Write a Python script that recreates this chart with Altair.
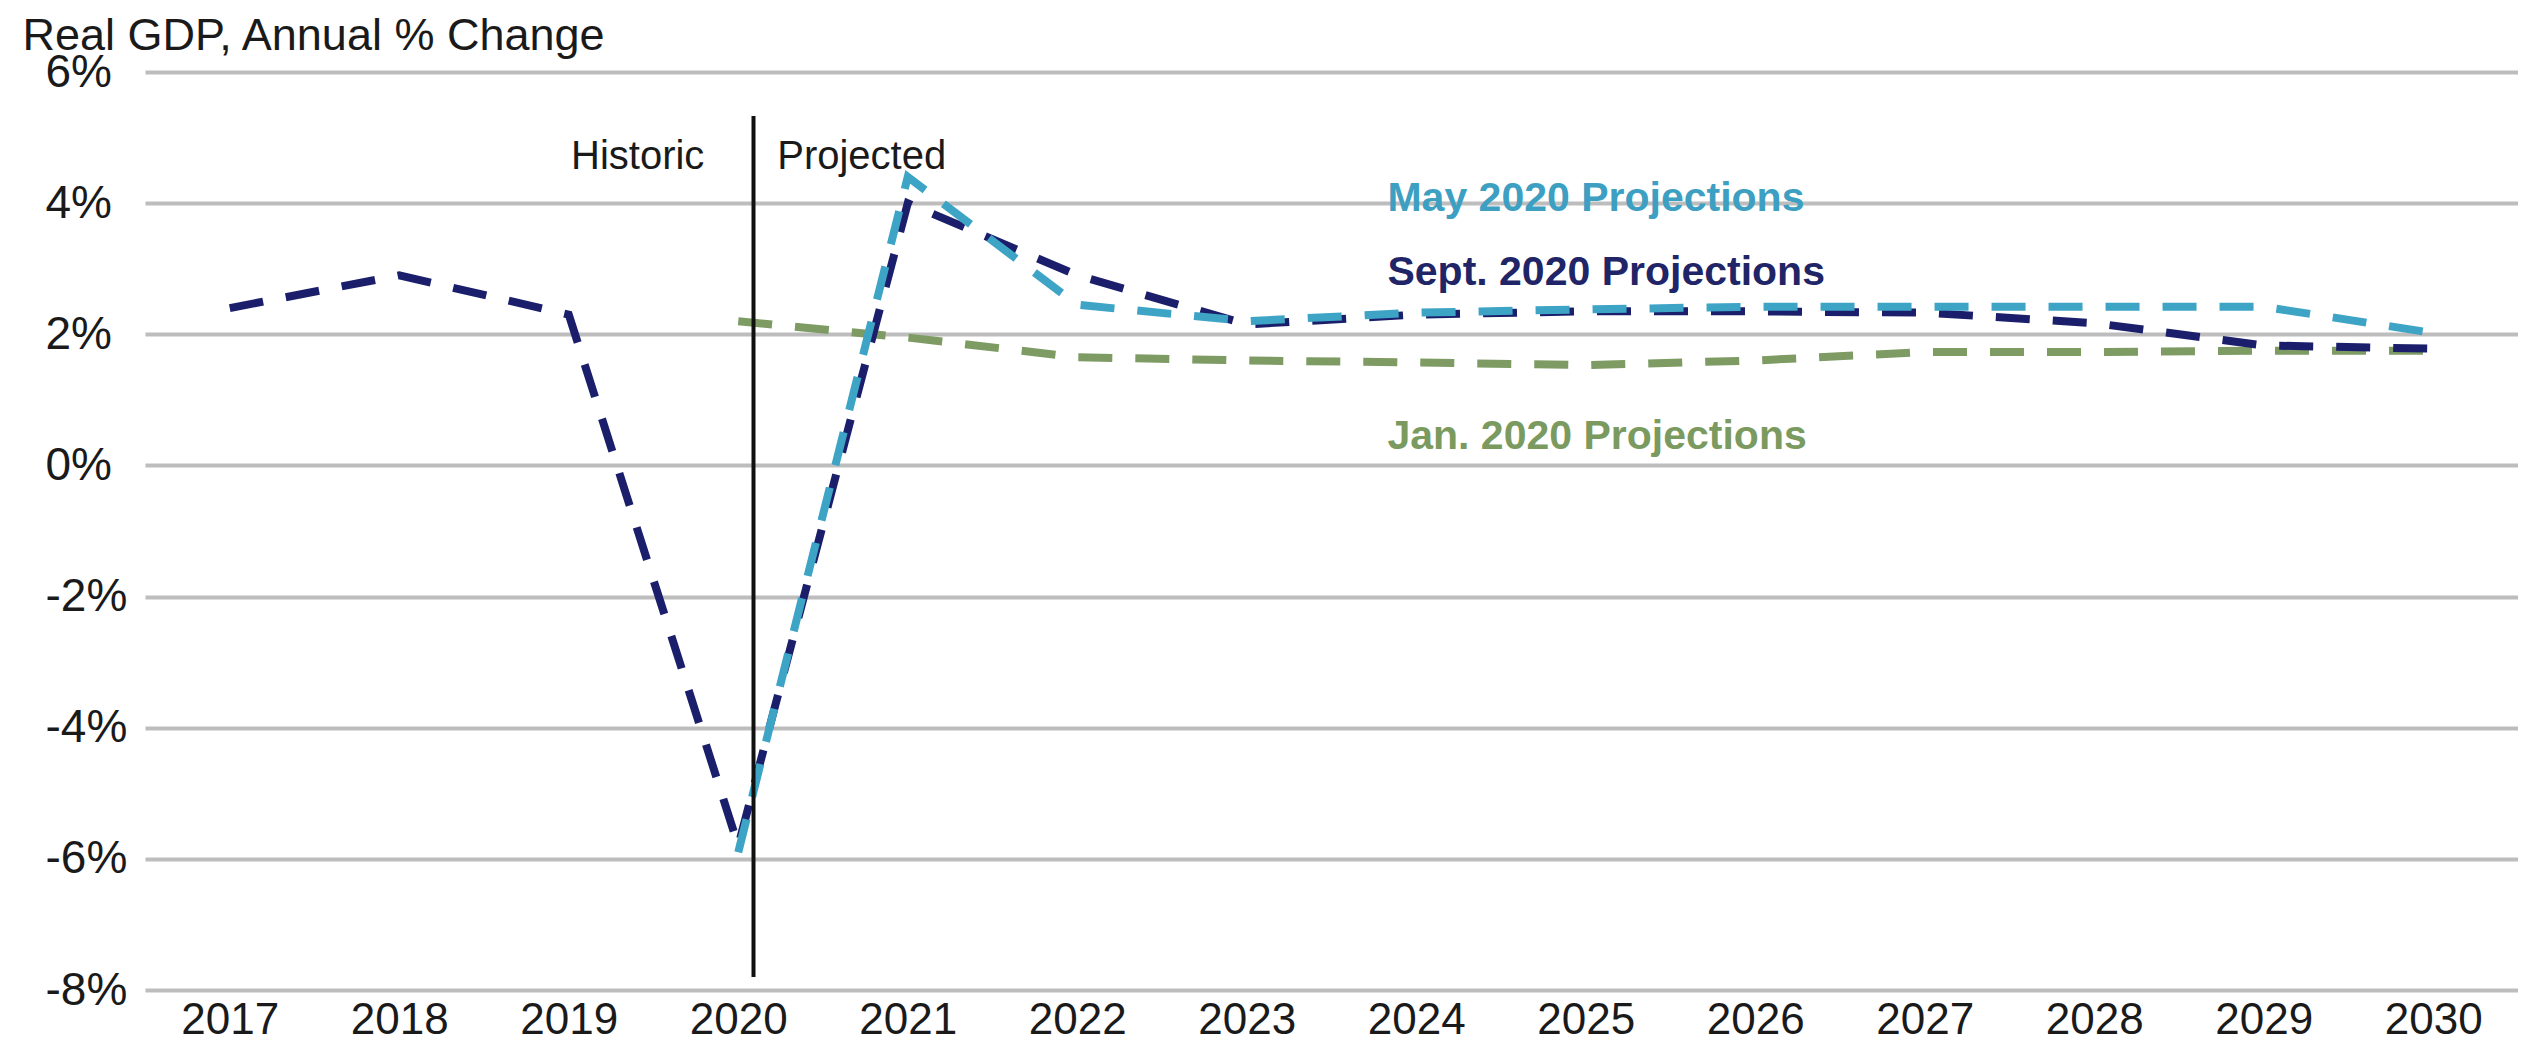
import altair as alt
import pandas as pd

# ---- data ----
years_sept = list(range(2017, 2031))
sept_vals = [2.4, 2.9, 2.3, -5.8, 4.0, 2.9, 2.15, 2.3, 2.35, 2.35, 2.33, 2.17, 1.83, 1.78]
years_proj = list(range(2020, 2031))
may_vals = [-5.9, 4.4, 2.45, 2.2, 2.33, 2.38, 2.42, 2.42, 2.42, 2.42, 2.02]
jan_vals = [2.2, 1.95, 1.65, 1.6, 1.57, 1.53, 1.6, 1.73, 1.73, 1.75, 1.75]

series_names = ["Jan. 2020 Projections", "Sept. 2020 Projections", "May 2020 Projections"]
series_colors = ["#7d9b63", "#1b1f6b", "#3ea4c6"]
text_colors = ["#7a9a60", "#1f2566", "#3d9fc2"]

y_ticks = [-8, -6, -4, -2, 0, 2, 4, 6]
x_ticks = list(range(2017, 2031))

# divider between historic and projected
divider_x = [2020.09]
divider_top = [5.33]
divider_bottom = [-7.8]

# annotation texts
period_labels = ["Historic", "Projected"]
period_x = [2019.80, 2020.23]
period_y = [4.70, 4.70]
period_align = ["right", "left"]

series_label_x = [2023.83, 2023.83, 2023.83]
series_label_y = [0.43, 2.93, 4.06]

FONT = "Liberation Sans"

rows = []
for yr, v in zip(years_sept, sept_vals):
    rows.append({"year": yr, "value": v, "series": series_names[1]})
for yr, v in zip(years_proj, may_vals):
    rows.append({"year": yr, "value": v, "series": series_names[2]})
for yr, v in zip(years_proj, jan_vals):
    rows.append({"year": yr, "value": v, "series": series_names[0]})
df = pd.DataFrame(rows)

x_scale = alt.Scale(domain=[2016.5, 2030.5], nice=False, zero=False)
y_scale = alt.Scale(domain=[-8, 6], nice=False, zero=False)

x_enc = alt.X(
    "year:Q",
    scale=x_scale,
    axis=alt.Axis(
        values=x_ticks, format="d", title=None, grid=False, ticks=False, tickSize=0,
        domain=False, labelFontSize=44, labelFont=FONT, labelColor="#1a1a1a",
        labelPadding=8, labelFlush=False, labelOverlap=False,
    ),
)
y_enc = alt.Y(
    "value:Q",
    scale=y_scale,
    axis=alt.Axis(
        values=y_ticks, labelExpr="datum.value + '%'", title="Real GDP, Annual % Change",
        titleAngle=0, titleAlign="left", titleBaseline="alphabetic", titleX=-123, titleY=-23,
        titleFontSize=45, titleFont=FONT, titleFontWeight="normal", titleColor="#1a1a1a",
        grid=True, gridColor="#bdbdbd", gridWidth=4, ticks=False, tickSize=0, domain=False,
        labelFontSize=46, labelFont=FONT, labelColor="#1a1a1a", labelAlign="left",
        labelBaseline="middle", labelPadding=100, labelFlush=False, labelOverlap=False,
    ),
)

color_scale = alt.Scale(domain=series_names, range=series_colors)

lines = []
for name in series_names:
    lines.append(
        alt.Chart(df[df["series"] == name])
        .mark_line(strokeWidth=8, strokeDash=[34, 23], strokeCap="butt")
        .encode(
            x=x_enc,
            y=y_enc,
            color=alt.Color("series:N", scale=color_scale, legend=None),
            order="year:Q",
        )
    )

div_df = pd.DataFrame({"x": divider_x, "top": divider_top, "bottom": divider_bottom})
divider = alt.Chart(div_df).mark_rule(color="#111111", strokeWidth=4).encode(
    x=alt.X("x:Q", scale=x_scale),
    y=alt.Y("top:Q", scale=y_scale),
    y2="bottom:Q",
)

per_df = pd.DataFrame({"label": period_labels, "x": period_x, "y": period_y, "align": period_align})
hist_text = alt.Chart(per_df[per_df["align"] == "right"]).mark_text(
    align="right", baseline="middle", font=FONT, fontSize=40, color="#1a1a1a"
).encode(x=alt.X("x:Q", scale=x_scale), y=alt.Y("y:Q", scale=y_scale), text="label:N")
proj_text = alt.Chart(per_df[per_df["align"] == "left"]).mark_text(
    align="left", baseline="middle", font=FONT, fontSize=40, color="#1a1a1a"
).encode(x=alt.X("x:Q", scale=x_scale), y=alt.Y("y:Q", scale=y_scale), text="label:N")

lab_df = pd.DataFrame({"label": series_names, "x": series_label_x, "y": series_label_y})
series_text = alt.Chart(lab_df).mark_text(
    align="left", baseline="middle", font=FONT, fontSize=41, fontWeight="bold"
).encode(
    x=alt.X("x:Q", scale=x_scale),
    y=alt.Y("y:Q", scale=y_scale),
    text="label:N",
    color=alt.Color("label:N", scale=alt.Scale(domain=series_names, range=text_colors), legend=None),
)

chart = (
    alt.layer(*lines, divider, hist_text, proj_text, series_text)
    .resolve_scale(color="independent")
    .properties(
        width=2373,
        height=918,
        autosize=alt.AutoSizeParams(type="none"),
        padding={"left": 137, "top": 64, "right": 0, "bottom": 54},
        background="white",
    )
    .configure_view(stroke=None)
)

chart.save("out.html", embed_options={"renderer": "svg", "actions": False})
